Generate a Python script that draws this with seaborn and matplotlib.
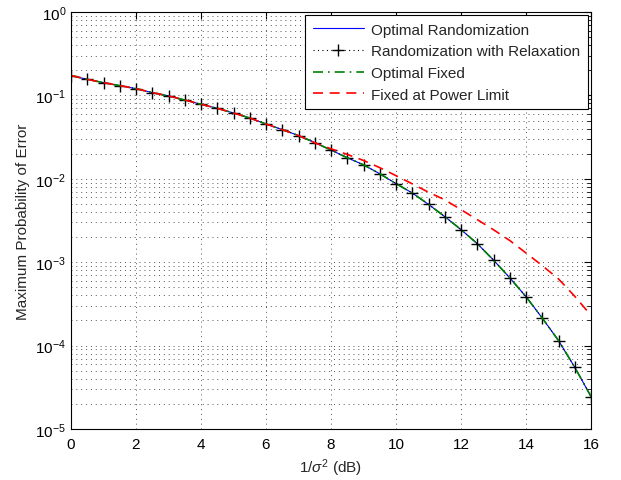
import numpy as np
import pandas as pd
import matplotlib
matplotlib.use('Agg')
import matplotlib.pyplot as plt
import seaborn as sns

# SNR en dB
snr_db = [0, 0.5, 1, 1.5, 2, 2.5, 3, 3.5, 4, 4.5, 5, 5.5, 6, 6.5, 7, 7.5,
          8, 8.5, 9, 9.5, 10, 10.5, 11, 11.5, 12, 12.5, 13, 13.5, 14, 14.5,
          15, 15.5, 16]

# Probabilidad de error
p_opt_rand = [1.73e-1, 1.56e-1, 1.42e-1, 1.31e-1, 1.205e-1, 1.08e-1, 9.84e-2,
              8.81e-2, 7.82e-2, 7.0e-2, 6.15e-2, 5.36e-2, 4.54e-2, 3.89e-2,
              3.30e-2, 2.72e-2, 2.21e-2, 1.79e-2, 1.47e-2, 1.15e-2, 8.75e-3,
              6.76e-3, 4.94e-3, 3.52e-3, 2.46e-3, 1.67e-3, 1.06e-3, 6.5e-4,
              3.86e-4, 2.14e-4, 1.15e-4, 5.5e-5, 2.45e-5]
p_rand_relax = list(p_opt_rand)
p_opt_fixed = list(p_opt_rand)
p_fixed_limit = [1.73e-1, 1.56e-1, 1.42e-1, 1.31e-1, 1.205e-1, 1.08e-1, 9.84e-2,
                 8.81e-2, 7.82e-2, 7.0e-2, 6.15e-2, 5.36e-2, 4.54e-2, 3.89e-2,
                 3.30e-2, 2.70e-2, 2.29e-2, 1.96e-2, 1.66e-2, 1.36e-2, 1.09e-2,
                 8.7e-3, 6.9e-3, 5.6e-3, 4.27e-3, 3.24e-3, 2.45e-3, 1.82e-3,
                 1.29e-3, 9.1e-4, 6.3e-4, 3.9e-4, 2.3e-4]

labels = ['Optimal Randomization', 'Randomization with Relaxation',
          'Optimal Fixed', 'Fixed at Power Limit']

df = pd.DataFrame({'snr': snr_db, 'rand': p_opt_rand, 'relax': p_rand_relax,
                   'fixed': p_opt_fixed, 'limit': p_fixed_limit})

sns.set_style('white')
plt.rcParams['font.family'] = ['Liberation Sans', 'DejaVu Sans']
plt.rcParams['mathtext.fontset'] = 'custom'
plt.rcParams['mathtext.rm'] = 'Liberation Sans'
plt.rcParams['mathtext.it'] = 'Liberation Sans:italic'

fig = plt.figure(figsize=(6.21, 4.81), dpi=100)
ax = fig.add_axes([71/621, 1 - 430/481, 520/621, 417/481])

sns.lineplot(data=df, x='snr', y='rand', ax=ax, color='#0000ff', lw=0.8,
             label=labels[0])
sns.lineplot(data=df, x='snr', y='relax', ax=ax, color='black', lw=0.8,
             linestyle=(0, (1, 3)), marker='+', markersize=8,
             markeredgewidth=1, markeredgecolor='black', label=labels[1])
sns.lineplot(data=df, x='snr', y='fixed', ax=ax, color='#008000', lw=1.2,
             linestyle=(0, (6, 3, 1, 3)), label=labels[2])
sns.lineplot(data=df, x='snr', y='limit', ax=ax, color='#ff0000', lw=1.2,
             linestyle=(0, (6, 4)), label=labels[3])

ax.set_yscale('log')
ax.set_xlim(0, 16)
ax.set_ylim(1e-5, 1)
ax.set_xticks(range(0, 17, 2))

grid_style = dict(linestyle=(0, (1, 4)), color='#555555', lw=0.7)
ax.grid(True, which='major', axis='x', **grid_style)
ax.grid(True, which='both', axis='y', **grid_style)
ax.tick_params(which='both', direction='in', top=True, right=True,
               labelsize=11, colors='black')
ax.tick_params(which='major', length=5)
ax.tick_params(axis='x', which='major', pad=6)
ax.tick_params(which='minor', length=3)
for s in ax.spines.values():
    s.set_color('black')
    s.set_linewidth(0.8)

ax.set_xlabel(r'1/$\sigma^2$ (dB)', fontsize=11)
ax.set_ylabel('Maximum Probability of Error', fontsize=11)

leg = ax.legend(loc='upper right', fontsize=11, frameon=True, fancybox=False,
                edgecolor='black', handlelength=3.3, borderaxespad=0.2,
                labelspacing=0.5, borderpad=0.5, handletextpad=0.5)
leg.get_frame().set_linewidth(0.8)
leg.get_frame().set_alpha(1)

plt.savefig('out.png', dpi=100)
